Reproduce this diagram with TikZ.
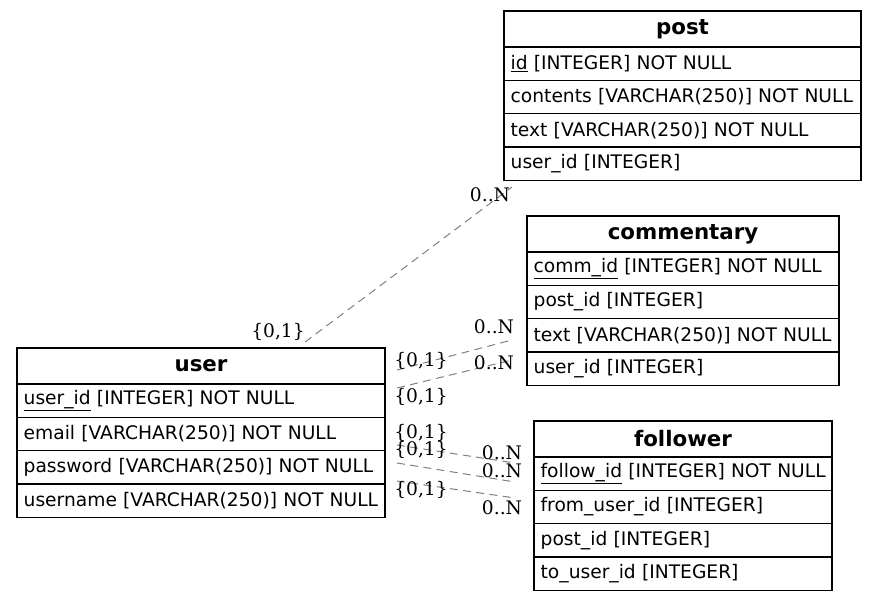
\documentclass[tikz,border=0pt]{standalone}
\usepackage{fontspec}
\setmainfont{DejaVu Sans}
\newfontfamily\cardfont{DejaVu Serif}
\usetikzlibrary{positioning}

\tikzset{
	tabrow/.style={draw=black, line width=0.8pt, outer sep=0pt, inner xsep=5pt, inner ysep=0pt,
		minimum height=25pt, text width=#1, align=left, font=\fontsize{14}{16}\selectfont},
	tablehead/.style={tabrow=#1, minimum height=27pt, align=center,
		font=\fontsize{16}{18}\selectfont\bfseries},
	rel/.style={draw=gray, line width=0.75pt, dash pattern=on 6pt off 4pt},
	card/.style={font=\cardfont\fontsize{14}{16}\selectfont, inner sep=0pt},
}

\begin{document}
\begin{tikzpicture}[x=0.75pt,y=-0.75pt]
	\useasboundingbox (0,0) rectangle (877,603);

	% Table: post
	\node[tablehead=257.75pt, anchor=north west] (post) at (504,11) {post};
	\node[tabrow=257.75pt, below=0pt of post] (post-id) {\underline{id} [INTEGER] NOT NULL};
	\node[tabrow=257.75pt, below=0pt of post-id] (post-contents) {contents [VARCHAR(250)] NOT NULL};
	\node[tabrow=257.75pt, below=0pt of post-contents] (post-text) {text [VARCHAR(250)] NOT NULL};
	\node[tabrow=257.75pt, below=0pt of post-text] (post-user) {user\_id [INTEGER]};

	% Table: commentary
	\node[tablehead=224pt, anchor=north west] (comm) at (527,216) {commentary};
	\node[tabrow=224pt, below=0pt of comm] (comm-id) {\underline{comm\_id} [INTEGER] NOT NULL};
	\node[tabrow=224pt, below=0pt of comm-id] (comm-post) {post\_id [INTEGER]};
	\node[tabrow=224pt, below=0pt of comm-post] (comm-text) {text [VARCHAR(250)] NOT NULL};
	\node[tabrow=224pt, below=0pt of comm-text] (comm-user) {user\_id [INTEGER]};

	% Table: user
	\node[tablehead=266pt, anchor=north west] (user) at (17,348) {user};
	\node[tabrow=266pt, below=0pt of user] (user-id) {\underline{user\_id} [INTEGER] NOT NULL};
	\node[tabrow=266pt, below=0pt of user-id] (user-email) {email [VARCHAR(250)] NOT NULL};
	\node[tabrow=266pt, below=0pt of user-email] (user-pass) {password [VARCHAR(250)] NOT NULL};
	\node[tabrow=266pt, below=0pt of user-pass] (user-name) {username [VARCHAR(250)] NOT NULL};

	% Table: follower
	\node[tablehead=213.5pt, anchor=north west] (foll) at (534,421) {follower};
	\node[tabrow=213.5pt, below=0pt of foll] (foll-id) {\mbox{\underline{follow\_id} [INTEGER] NOT NULL}};
	\node[tabrow=213.5pt, below=0pt of foll-id] (foll-from) {from\_user\_id [INTEGER]};
	\node[tabrow=213.5pt, below=0pt of foll-from] (foll-post) {post\_id [INTEGER]};
	\node[tabrow=213.5pt, below=0pt of foll-post] (foll-to) {to\_user\_id [INTEGER]};

	% Edge ends
	\coordinate (up) at (305,342);   \coordinate (pu) at (512,187);
	\coordinate (uc1) at (397,370);  \coordinate (cu1) at (512,340);
	\coordinate (uc2) at (397,388);  \coordinate (cu2) at (512,360);
	\coordinate (uf1) at (397,445);  \coordinate (fu1) at (515,463);
	\coordinate (uf2) at (397,463);  \coordinate (fu2) at (515,482);
	\coordinate (uf3) at (397,481);  \coordinate (fu3) at (515,498);

	% Relations
	\draw[rel] (up) -- (pu);
	\draw[rel] (uc1) -- (cu1);
	\draw[rel] (uc2) -- (cu2);
	\draw[rel] (uf1) -- (fu1);
	\draw[rel] (uf2) -- (fu2);
	\draw[rel] (uf3) -- (fu3);

	% Cardinalities
	\node[card] (c-up) at (278,332) {\{0,1\}};
	\node[card] (c-pu) at (490,195) {0..N};
	\node[card] (c-uc1) at (421,361) {\{0,1\}};
	\node[card] (c-cu1) at (494,327) {0..N};
	\node[card] (c-uc2) at (421,397) {\{0,1\}};
	\node[card] (c-cu2) at (494,363) {0..N};
	\node[card] (c-uf1) at (421,433) {\{0,1\}};
	\node[card] (c-uf2) at (421,450) {\{0,1\}};
	\node[card] (c-uf3) at (421,490) {\{0,1\}};
	\node[card] (c-fu1) at (502,453) {0..N};
	\node[card] (c-fu2) at (502,471) {0..N};
	\node[card] (c-fu3) at (502,508) {0..N};
\end{tikzpicture}
\end{document}
